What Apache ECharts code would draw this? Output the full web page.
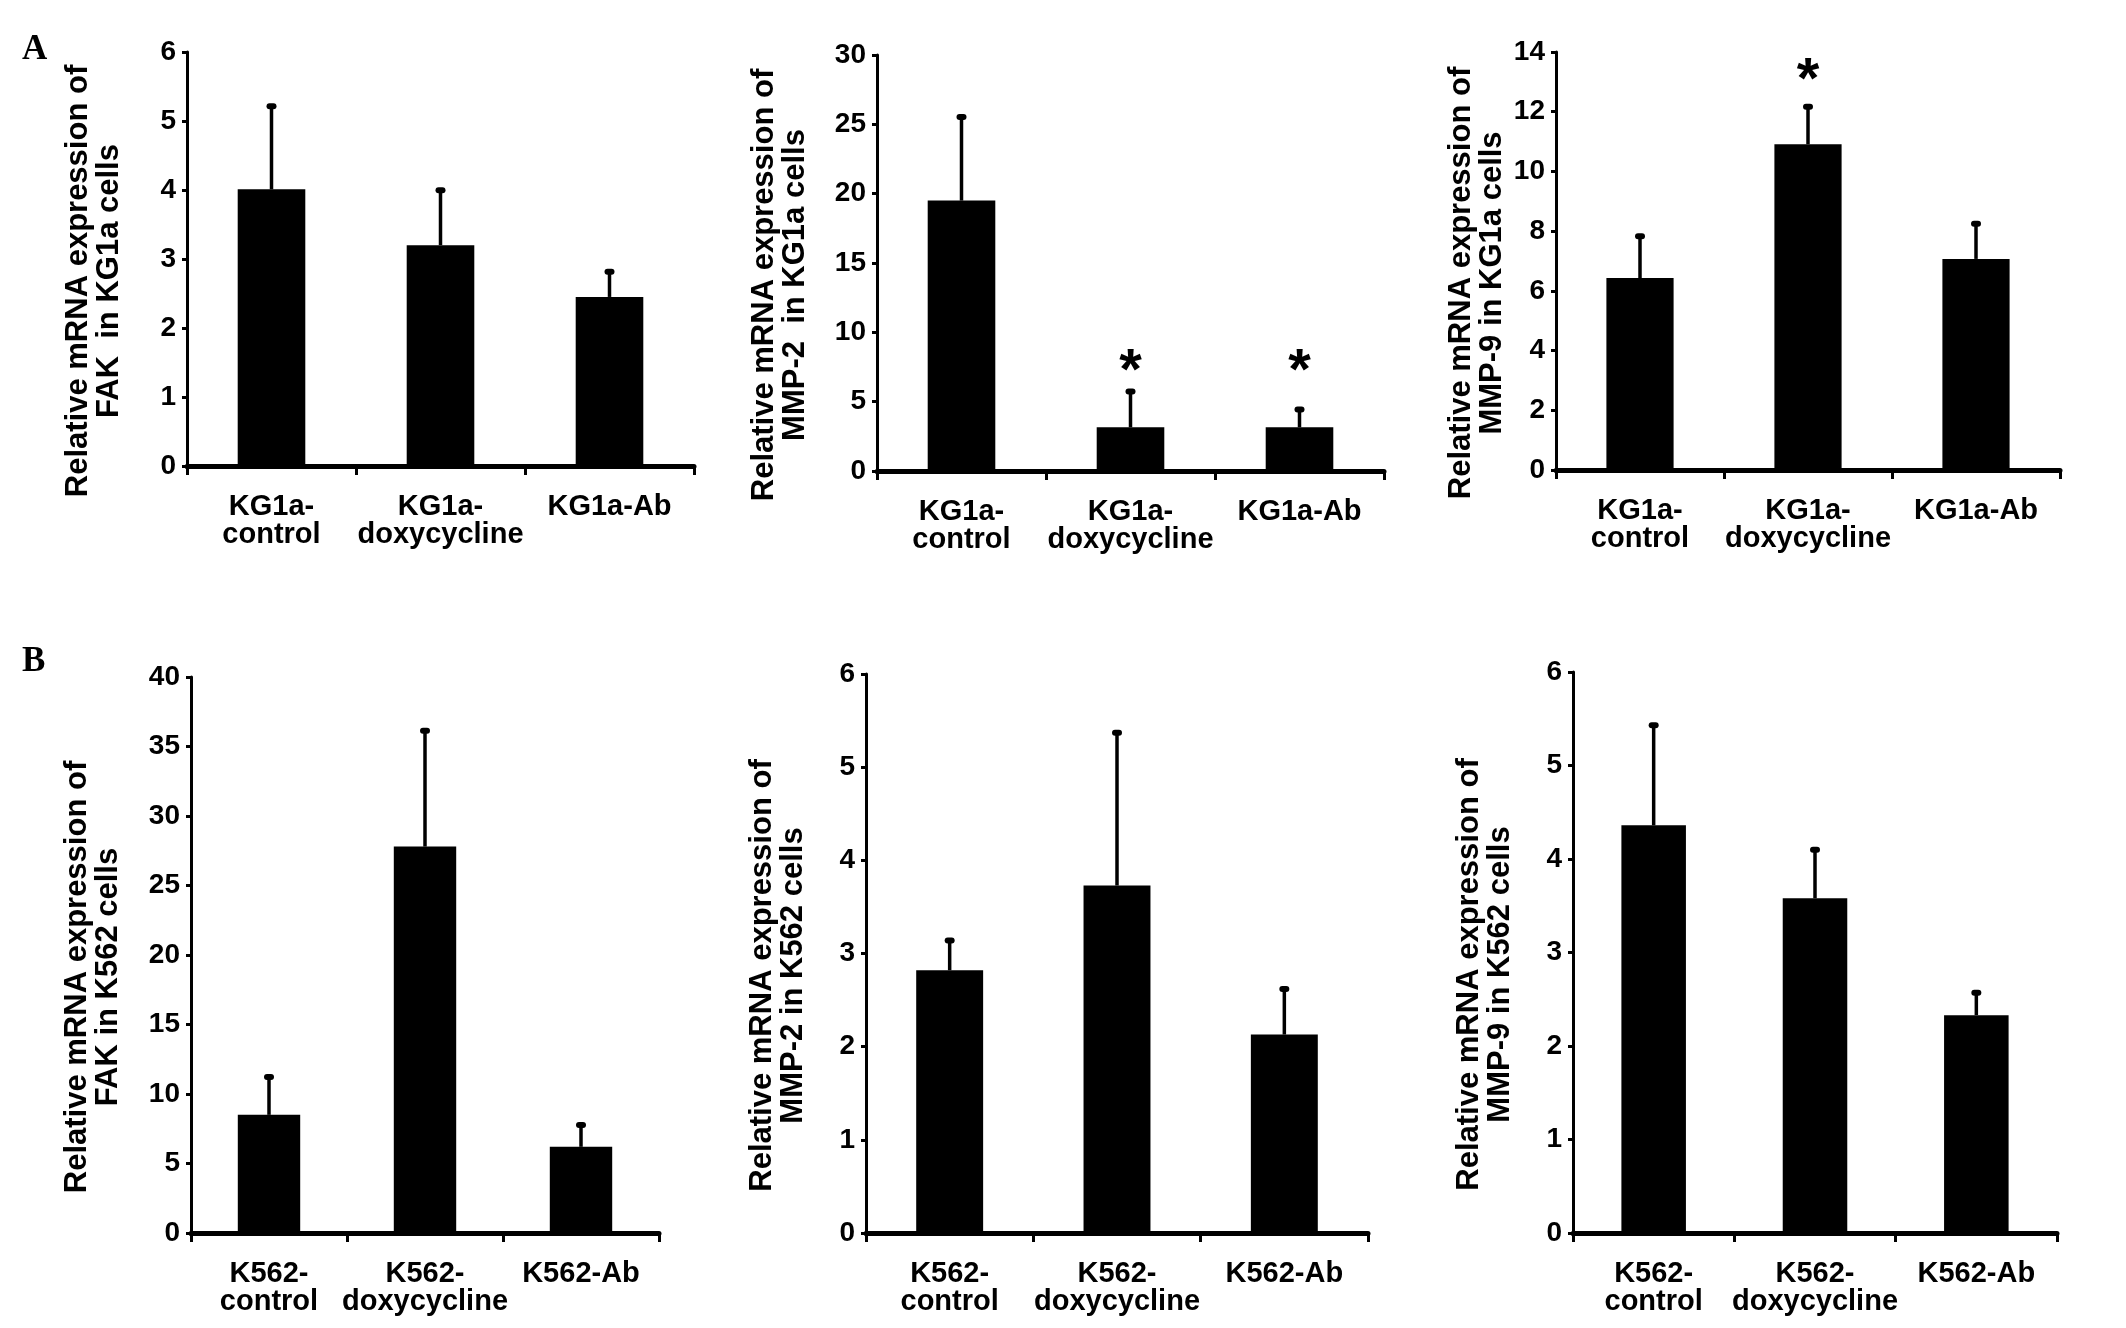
<!DOCTYPE html>
<html>
<head>
<meta charset="utf-8">
<style>
  html, body { margin: 0; padding: 0; background: #fff; }
  #chart { width: 2126px; height: 1328px; }
</style>
<script src="https://cdn.jsdelivr.net/npm/echarts@6/dist/echarts.min.js"></script>
</head>
<body>
<div id="chart"></div>
<script>
// categories
const kg1aCategories = ['KG1a-\ncontrol', 'KG1a-\ndoxycycline', 'KG1a-Ab'];
const k562Categories = ['K562-\ncontrol', 'K562-\ndoxycycline', 'K562-Ab'];

// panel A - KG1a cells (mean, upper error)
const fakKG1aMean = [4.01, 3.2, 2.45];
const fakKG1aErr = [1.22, 0.81, 0.38];
const mmp2KG1aMean = [19.5, 3.15, 3.15];
const mmp2KG1aErr = [6.1, 2.65, 1.35];
const mmp9KG1aMean = [6.43, 10.91, 7.07];
const mmp9KG1aErr = [1.43, 1.29, 1.21];

// panel B - K562 cells
const fakK562Mean = [8.5, 27.8, 6.2];
const fakK562Err = [2.8, 8.4, 1.65];
const mmp2K562Mean = [2.82, 3.73, 2.13];
const mmp2K562Err = [0.33, 1.65, 0.5];
const mmp9K562Mean = [4.36, 3.58, 2.33];
const mmp9K562Err = [1.08, 0.53, 0.25];

// significance marks (value where the asterisk sits)
const mmp2KG1aStar = [null, 7.1, 7.1];
const mmp9KG1aStar = [null, 13.0, null];

// y axis ticks
const fakKG1aTicks = { max: 6, interval: 1 };
const mmp2KG1aTicks = { max: 30, interval: 5 };
const mmp9KG1aTicks = { max: 14, interval: 2 };
const fakK562Ticks = { max: 40, interval: 5 };
const mmp2K562Ticks = { max: 6, interval: 1 };
const mmp9K562Ticks = { max: 6, interval: 1 };

const FONT = "'Liberation Sans', Arial, sans-serif";
const SERIF = "'Liberation Serif', 'Times New Roman', serif";

const panels = [
  { box: [187, 52, 507, 414], cats: kg1aCategories, mean: fakKG1aMean, err: fakKG1aErr, star: null,
    ticks: fakKG1aTicks, title: 'Relative mRNA expression of\nFAK  in KG1a cells', gap: 62 },
  { box: [877, 55, 507, 416], cats: kg1aCategories, mean: mmp2KG1aMean, err: mmp2KG1aErr, star: mmp2KG1aStar,
    ticks: mmp2KG1aTicks, title: 'Relative mRNA expression of\nMMP-2  in KG1a cells', gap: 66 },
  { box: [1556, 52, 504, 418], cats: kg1aCategories, mean: mmp9KG1aMean, err: mmp9KG1aErr, star: mmp9KG1aStar,
    ticks: mmp9KG1aTicks, title: 'Relative mRNA expression of\nMMP-9 in KG1a cells', gap: 48 },
  { box: [191, 677, 468, 556], cats: k562Categories, mean: fakK562Mean, err: fakK562Err, star: null,
    ticks: fakK562Ticks, title: 'Relative mRNA expression of\nFAK in K562 cells', gap: 67 },
  { box: [866, 674, 502, 559], cats: k562Categories, mean: mmp2K562Mean, err: mmp2K562Err, star: null,
    ticks: mmp2K562Ticks, title: 'Relative mRNA expression of\nMMP-2 in K562 cells', gap: 57 },
  { box: [1573, 672, 484, 561], cats: k562Categories, mean: mmp9K562Mean, err: mmp9K562Err, star: null,
    ticks: mmp9K562Ticks, title: 'Relative mRNA expression of\nMMP-9 in K562 cells', gap: 57 }
];

function errorBar(params, api) {
  const base = api.coord([api.value(0), api.value(1)]);
  const top = api.coord([api.value(0), api.value(1) + api.value(2)]);
  return {
    type: 'group',
    children: [
      { type: 'line', shape: { x1: base[0], y1: base[1], x2: top[0], y2: top[1] },
        style: { stroke: '#000', lineWidth: 3.5 } },
      { type: 'line', shape: { x1: top[0] - 2, y1: top[1] + 1, x2: top[0] + 2, y2: top[1] + 1 },
        style: { stroke: '#000', lineWidth: 6, lineCap: 'round' } }
    ]
  };
}

function starMark(params, api) {
  const p = api.coord([api.value(0), api.value(1)]);
  return {
    type: 'text', x: p[0], y: p[1],
    style: { text: '*', fill: '#000', font: 'bold 58px ' + FONT, textAlign: 'center', textVerticalAlign: 'middle' }
  };
}

const series = [];
panels.forEach(function (p, i) {
  series.push({
    type: 'bar', xAxisIndex: i, yAxisIndex: i, barWidth: '40%',
    itemStyle: { color: '#000' }, data: p.mean, z: 2
  });
  series.push({
    type: 'custom', xAxisIndex: i, yAxisIndex: i, renderItem: errorBar, z: 3,
    data: p.mean.map(function (m, k) { return [k, m, p.err[k]]; })
  });
  if (p.star) {
    series.push({
      type: 'custom', xAxisIndex: i, yAxisIndex: i, renderItem: starMark, z: 3,
      data: p.star.map(function (v, k) { return [k, v]; }).filter(function (d) { return d[1] != null; })
    });
  }
});

const option = {
  backgroundColor: '#fff',
  animation: false,
  grid: panels.map(function (p) {
    return { left: p.box[0], top: p.box[1], width: p.box[2], height: p.box[3] };
  }),
  xAxis: panels.map(function (p, i) {
    return {
      gridIndex: i, type: 'category', data: p.cats,
      axisLine: { lineStyle: { color: '#000', width: 5 } },
      axisTick: { show: true, length: 9, lineStyle: { color: '#000', width: 3 } },
      axisLabel: { interval: 0, color: '#000', fontFamily: FONT, fontWeight: 'bold', fontSize: 29,
        lineHeight: 28, margin: 27 }
    };
  }),
  yAxis: panels.map(function (p, i) {
    return {
      gridIndex: i, type: 'value', min: 0, max: p.ticks.max, interval: p.ticks.interval,
      name: p.title, nameLocation: 'middle', nameRotate: 90, nameGap: p.gap,
      nameTextStyle: { color: '#000', fontFamily: FONT, fontWeight: 'bold', fontSize: 31, lineHeight: 31,
        padding: [0, 44, 0, 0] },
      splitLine: { show: false },
      axisLine: { show: true, lineStyle: { color: '#000', width: 3 } },
      axisTick: { show: true, length: 5, lineStyle: { color: '#000', width: 3 } },
      axisLabel: { color: '#000', fontFamily: FONT, fontWeight: 'bold', fontSize: 28, margin: 11 }
    };
  }),
  graphic: [
    { type: 'text', left: 22, top: 32, style: { text: 'A', fill: '#000', font: 'bold 35px ' + SERIF } },
    { type: 'text', left: 22, top: 644, style: { text: 'B', fill: '#000', font: 'bold 35px ' + SERIF } }
  ],
  series: series
};

const myChart = echarts.init(document.getElementById('chart'));
myChart.setOption(option);
window.addEventListener('resize', function () {
  myChart.resize();
});
</script>
</body>
</html>
